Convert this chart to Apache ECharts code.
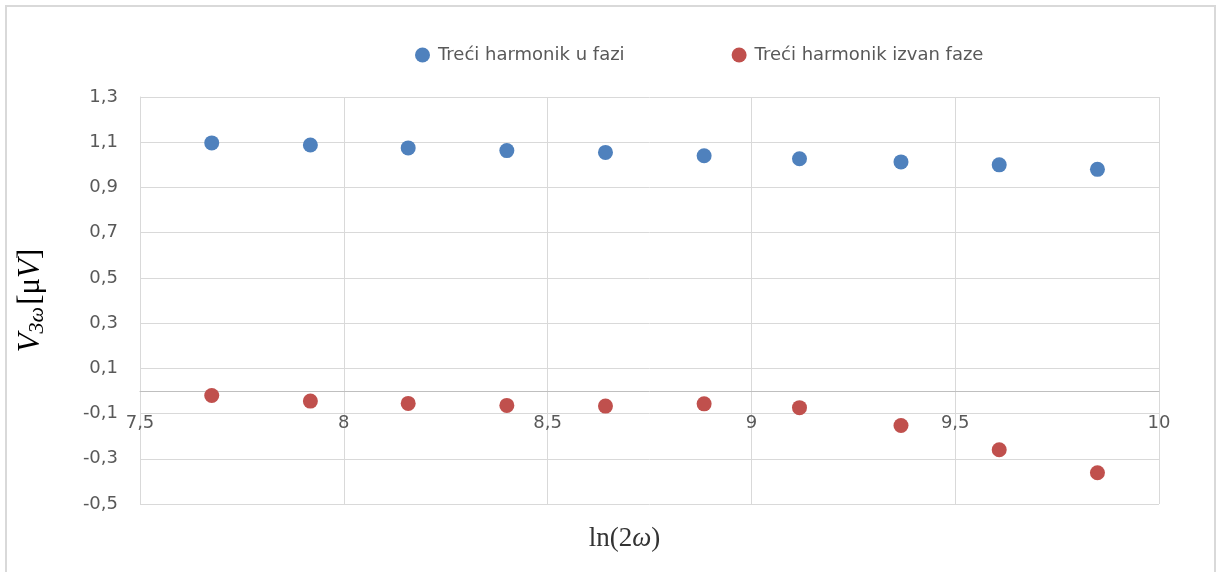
<!DOCTYPE html>
<html>
<head>
<meta charset="utf-8">
<title>V3w</title>
<script src="https://cdn.jsdelivr.net/npm/echarts@6/dist/echarts.min.js"></script>
<style>
    html, body { margin: 0; padding: 0; background: #fff; }
    #chart { width: 1216px; height: 572px; }
</style>
</head>
<body>
<div id="chart"></div>
<script>
// ln(2ω) vrijednosti
const lnOmega = [7.676, 7.918, 8.158, 8.400, 8.642, 8.884, 9.118, 9.367, 9.608, 9.849]
// treći harmonik u fazi [µV]
const inPhase = [1.097, 1.088, 1.075, 1.063, 1.055, 1.040, 1.027, 1.013, 1.000, 0.980]
// treći harmonik izvan faze [µV]
const outPhase = [-0.020, -0.045, -0.055, -0.064, -0.067, -0.057, -0.074, -0.153, -0.260, -0.362]
const yTicks = [-0.5, -0.3, -0.1, 0.1, 0.3, 0.5, 0.7, 0.9, 1.1, 1.3]
const seriesNames = ['Treći harmonik u fazi', 'Treći harmonik izvan faze']

const font = 'DejaVu Sans'
const comma = v => String(Math.round(v * 10) / 10).replace('.', ',')

let chart = echarts.init(document.getElementById('chart'))
let option = {
    animation: false,
    // okvir oko grafa (bez donjeg ruba)
    graphic: [{
        type: 'polyline',
        shape: { points: [[6, 580], [6, 6], [1215, 6], [1215, 580]] },
        style: { fill: 'none', stroke: '#d9d9d9', lineWidth: 2 },
        silent: true
    }],
    legend: {
        top: 41,
        left: 410,
        icon: 'circle',
        itemWidth: 15,
        itemHeight: 15,
        itemGap: 107,
        textStyle: { color: '#595959', fontSize: 18, fontFamily: font, padding: [0, 0, 0, 3] },
        data: seriesNames
    },
    grid: {
        left: 140,
        right: 57,
        top: 97,
        bottom: 68,
        outerBoundsMode: 'none'
    },
    xAxis: {
        type: 'value',
        min: 7.5,
        max: 10,
        interval: 0.5,
        // os prolazi kroz nulu: pomak od donjeg ruba (-0.5) do 0
        offset: -112.5,
        name: '{t|ln(2}{i|ω}{t|)}',
        nameLocation: 'middle',
        nameGap: 134,
        nameTextStyle: {
            padding: [0, 50, 0, 0],
            rich: {
                t: { fontFamily: 'Liberation Serif', fontSize: 27, color: '#333' },
                i: { fontFamily: 'Liberation Serif', fontStyle: 'italic', fontSize: 27, color: '#333' }
            }
        },
        axisLine: { onZero: false, lineStyle: { color: '#bfbfbf', width: 1 } },
        axisTick: { show: false },
        axisLabel: {
            margin: 23,
            color: '#595959',
            fontSize: 18,
            fontFamily: font,
            formatter: comma
        },
        splitLine: { show: true, lineStyle: { color: '#d9d9d9', width: 1 } }
    },
    yAxis: {
        type: 'value',
        min: -0.5,
        max: 1.3,
        name: '{v|V}{s|3ω}{n|[μ}{v|V}{n|]}',
        nameLocation: 'middle',
        nameGap: 92,
        nameTextStyle: {
            rich: {
                v: { fontFamily: 'Liberation Serif', fontStyle: 'italic', fontSize: 31, color: '#000' },
                s: { fontFamily: 'Liberation Serif', fontStyle: 'italic', fontSize: 22, color: '#000', padding: [12, 2, 0, 0] },
                n: { fontFamily: 'Liberation Serif', fontSize: 31, color: '#000' }
            }
        },
        axisLine: { show: true, lineStyle: { color: '#d9d9d9', width: 1 } },
        axisTick: { show: false, customValues: yTicks },
        axisLabel: {
            customValues: yTicks,
            margin: 22,
            color: '#595959',
            fontSize: 18,
            fontFamily: font,
            formatter: comma
        },
        splitLine: { show: true, lineStyle: { color: '#d9d9d9', width: 1 } }
    },
    series: [
        {
            name: seriesNames[0],
            type: 'scatter',
            symbolSize: 15,
            itemStyle: { color: '#4f81bd', opacity: 1 },
            data: lnOmega.map((x, i) => [x, inPhase[i]])
        },
        {
            name: seriesNames[1],
            type: 'scatter',
            symbolSize: 15,
            itemStyle: { color: '#c0504d', opacity: 1 },
            data: lnOmega.map((x, i) => [x, outPhase[i]])
        }
    ]
}
chart.setOption(option)
</script>
</body>
</html>
